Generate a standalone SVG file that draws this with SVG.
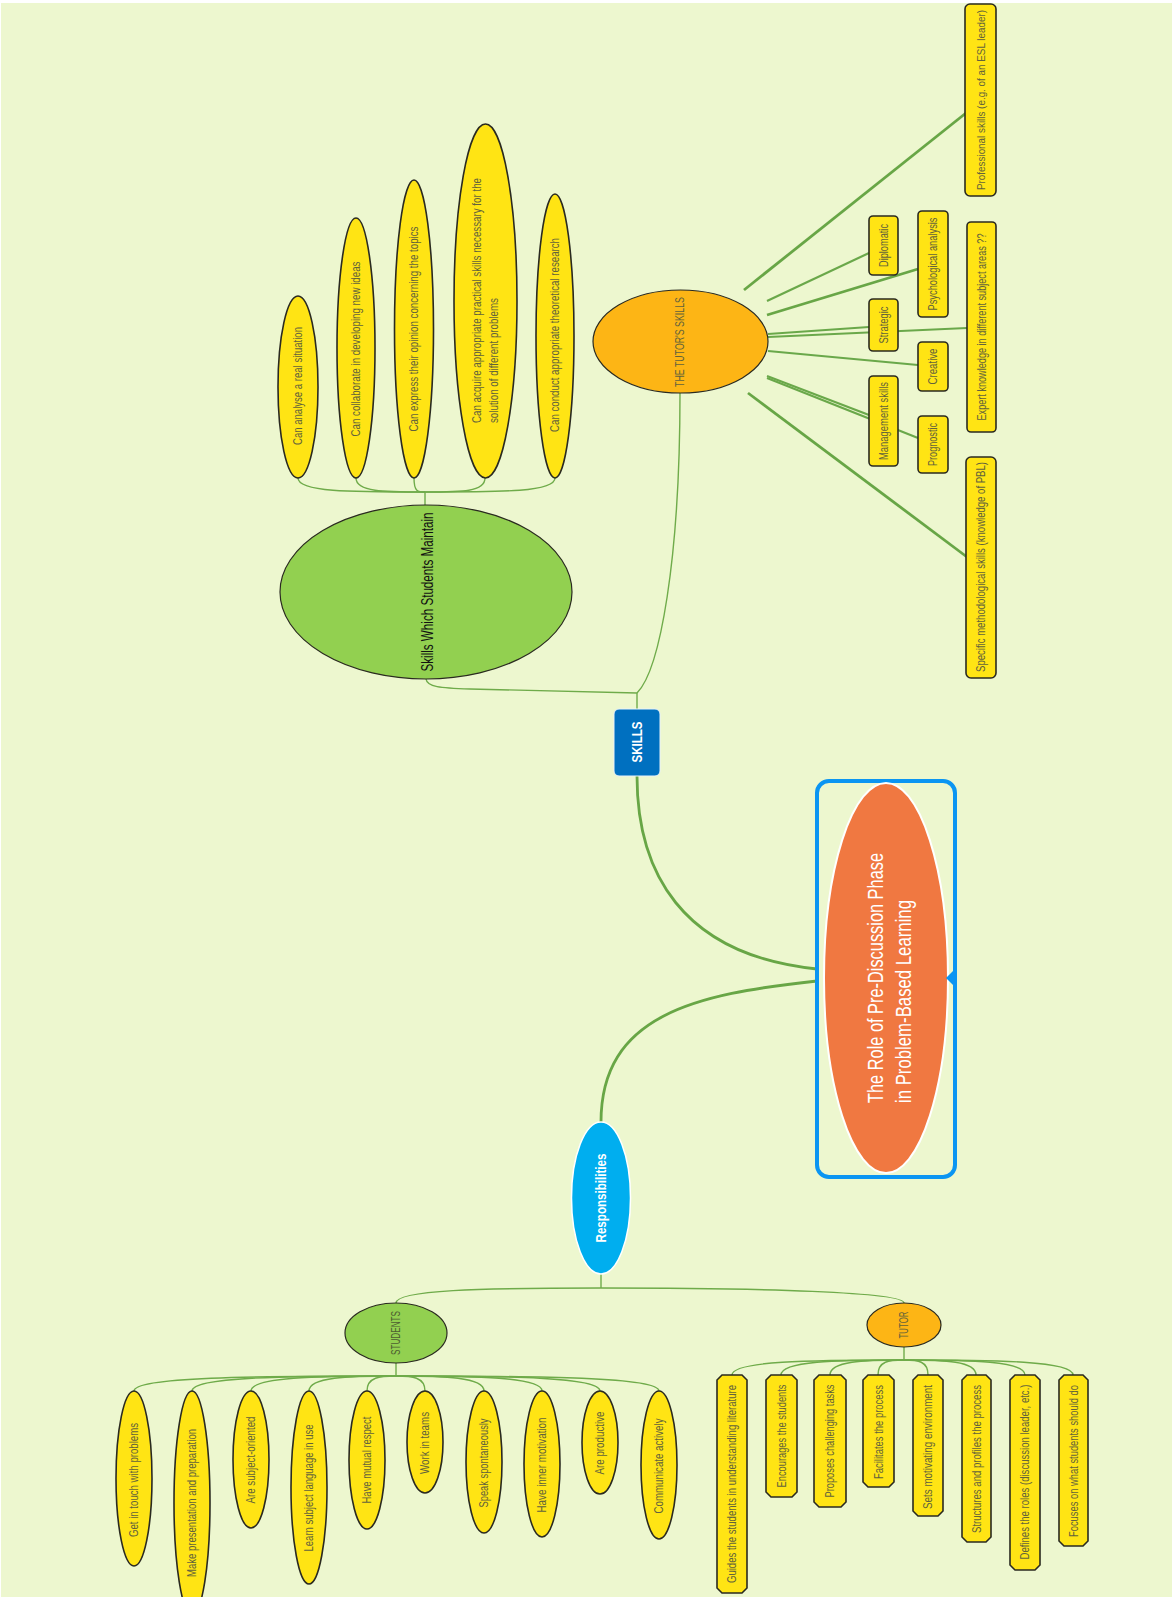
<svg xmlns="http://www.w3.org/2000/svg" width="1172" height="1597" viewBox="0 0 1172 1597">
  <style>
    .ln { fill: none; stroke: #6FAB4A; stroke-width: 1.4; }
    .lnm { fill: none; stroke: #6AA84A; stroke-width: 2.2; }
    .lnb { fill: none; stroke: #68A646; stroke-width: 2.8; }
    .yel { fill: #FFE414; stroke: #2A2A20; stroke-width: 1.6; }
    .box { fill: #FFE414; stroke: #2A2A20; stroke-width: 1.6; }
    .grn { fill: #92D050; stroke: #2A2A20; stroke-width: 1.2; }
    .org { fill: #FDB515; stroke: #2A2A20; stroke-width: 1.2; }
    text { font-family: "Liberation Sans", Arial, sans-serif; dominant-baseline: central; }
    .t { font-size: 12px; fill: #62623C; text-anchor: middle; }
    .ts { font-size: 12px; fill: #62623C; text-anchor: start; }
    .tw { fill: #FFFFFF; font-weight: bold; text-anchor: middle; }
  </style>

  <!-- canvas -->
  <rect x="0" y="0" width="1172" height="1597" fill="#FFFFFF"/>
  <rect x="1" y="3" width="1171" height="1594" fill="#EDF7CF"/>

  <!-- connectors -->
  <g id="connectors">
    <!-- student skill branches -->
    <path class="ln" d="M425 505 L425 492"/>
    <path class="ln" d="M425 492 C349 492 298 492 298 478"/>
    <path class="ln" d="M425 492 C384 492 356 492 356 478"/>
    <path class="ln" d="M425 492 C418 492 414 492 414 478"/>
    <path class="ln" d="M425 492 C462 492 485 492 485 478"/>
    <path class="ln" d="M425 492 C504 492 555 492 555 478"/>
    <!-- skills hub -->
    <path class="ln" d="M426 679 C427 687 440 688 470 689 L637 693"/>
    <path class="ln" d="M680 393 C680 560 660 670 637 693"/>
    <path class="ln" d="M637 693 L637 709"/>
    <!-- centre links -->
    <path class="lnb" d="M637 776 C637 870 680 955 817 969"/>
    <path class="lnb" d="M817 981 C695 994 601 1015 601 1122"/>
    <!-- tutor's skills rays -->
    <path class="lnb" d="M744 290 L966 113"/>
    <path class="lnm" d="M767 301 L869 253"/>
    <path class="lnb" d="M767 315 L918 269"/>
    <path class="lnm" d="M768 334 L869 327"/>
    <path class="lnm" d="M768 337 L967 328"/>
    <path class="lnm" d="M768 351 L918 365"/>
    <path class="lnm" d="M767 376 L869 415"/>
    <path class="lnm" d="M767 378 L918 438"/>
    <path class="lnb" d="M748 393 L967 557"/>
    <!-- responsibilities split -->
    <path class="ln" d="M601 1274 L601 1288"/>
    <path class="ln" d="M601 1288 C480 1288 396 1290 396 1303"/>
    <path class="ln" d="M601 1288 C760 1288 904 1292 904 1303"/>
    <!-- student branches -->
    <path class="ln" d="M396 1363 L396 1376"/>
    <path class="ln" d="M396 1376 C252 1376 134 1377 134 1391"/>
    <path class="ln" d="M396 1376 C284 1376 192 1377 192 1391"/>
    <path class="ln" d="M396 1376 C316 1376 251 1377 251 1391"/>
    <path class="ln" d="M396 1376 C348 1376 309 1377 309 1391"/>
    <path class="ln" d="M396 1376 C380 1376 367 1377 367 1391"/>
    <path class="ln" d="M396 1376 C412 1376 425 1377 425 1391"/>
    <path class="ln" d="M396 1376 C444 1376 484 1377 484 1391"/>
    <path class="ln" d="M396 1376 C476 1376 542 1377 542 1391"/>
    <path class="ln" d="M396 1376 C508 1376 600 1377 600 1391"/>
    <path class="ln" d="M396 1376 C541 1376 659 1377 659 1391"/>
    <!-- tutor branches -->
    <path class="ln" d="M904 1347 L904 1360"/>
    <path class="ln" d="M904 1360 C809 1360 732 1361 732 1375"/>
    <path class="ln" d="M904 1360 C836 1360 781 1361 781 1375"/>
    <path class="ln" d="M904 1360 C864 1360 830 1361 830 1375"/>
    <path class="ln" d="M904 1360 C889 1360 878 1361 878 1375"/>
    <path class="ln" d="M904 1360 C918 1360 928 1361 928 1375"/>
    <path class="ln" d="M904 1360 C945 1360 976 1361 976 1375"/>
    <path class="ln" d="M904 1360 C972 1360 1025 1361 1025 1375"/>
    <path class="ln" d="M904 1360 C998 1360 1073 1361 1073 1375"/>
  </g>

  <!-- central topic -->
  <g id="central">
    <rect x="817" y="781" width="138" height="396" rx="12" fill="none" stroke="#0B95F2" stroke-width="4"/>
    <ellipse cx="886" cy="978" rx="62" ry="195" fill="#F07841" stroke="#FFFFFF" stroke-width="2"/>
    <path d="M953 971 L946 978 L953 985 Z" fill="#0B95F2"/>
    <text class="tw" style="text-anchor:start;font-weight:normal;font-size:22px" transform="translate(875,1103) rotate(-90)" textLength="250" lengthAdjust="spacingAndGlyphs">The Role of Pre-Discussion Phase</text>
    <text class="tw" style="text-anchor:start;font-weight:normal;font-size:22px" transform="translate(903,1103) rotate(-90)" textLength="203" lengthAdjust="spacingAndGlyphs">in Problem-Based Learning</text>
  </g>

  <g id="skills">
    <rect x="614" y="709" width="46" height="67" rx="5" fill="#0070C0" stroke="#E8F2FA" stroke-width="1"/>
    <text class="tw" style="font-size:14px" transform="translate(637,742) rotate(-90)" textLength="41" lengthAdjust="spacingAndGlyphs">SKILLS</text>
  </g>

  <g id="students-skills">
    <ellipse class="grn" cx="426" cy="592" rx="146" ry="87"/>
    <text style="font-size:16px;fill:#111;text-anchor:middle" transform="translate(427,592) rotate(-90)" textLength="159" lengthAdjust="spacingAndGlyphs">Skills Which Students Maintain</text>
  </g>

  <g id="ss-1">
    <ellipse class="yel" cx="298" cy="387" rx="20" ry="91"/>
    <text class="t" transform="translate(298,386) rotate(-90)" textLength="118" lengthAdjust="spacingAndGlyphs">Can analyse a real situation</text>
  </g>
  <g id="ss-2">
    <ellipse class="yel" cx="356" cy="348" rx="19" ry="130"/>
    <text class="t" transform="translate(356,349) rotate(-90)" textLength="175" lengthAdjust="spacingAndGlyphs">Can collaborate in developing  new ideas</text>
  </g>
  <g id="ss-3">
    <ellipse class="yel" cx="414" cy="329" rx="19.5" ry="149"/>
    <text class="t" transform="translate(414,329) rotate(-90)" textLength="205" lengthAdjust="spacingAndGlyphs">Can express their opinion concerning the topics</text>
  </g>
  <g id="ss-4">
    <ellipse class="yel" cx="485.5" cy="301" rx="31.5" ry="177"/>
    <text class="ts" transform="translate(477,423) rotate(-90)" textLength="245" lengthAdjust="spacingAndGlyphs">Can acquire appropriate practical skills necessary for the</text>
    <text class="ts" transform="translate(494,423) rotate(-90)" textLength="125" lengthAdjust="spacingAndGlyphs">solution of different problems</text>
  </g>
  <g id="ss-5">
    <ellipse class="yel" cx="555" cy="336" rx="19" ry="142"/>
    <text class="t" transform="translate(555,335) rotate(-90)" textLength="194" lengthAdjust="spacingAndGlyphs">Can conduct appropriate  theoretical research</text>
  </g>

  <g id="tutors-skills">
    <ellipse class="org" cx="680.5" cy="341.5" rx="87.5" ry="51.5"/>
    <text class="t" transform="translate(680,342) rotate(-90)" textLength="90" lengthAdjust="spacingAndGlyphs">THE TUTOR'S SKILLS</text>
  </g>

  <g id="ts-professional">
    <rect class="box" x="965" y="4" width="31" height="192" rx="5"/>
    <text class="t" style="font-size:11px" transform="translate(980.5,100) rotate(-90)" textLength="180" lengthAdjust="spacingAndGlyphs">Professional skills (e.g. of an ESL leader)</text>
  </g>
  <g id="ts-diplomatic">
    <rect class="box" x="869" y="216" width="29" height="59" rx="4"/>
    <text class="t" transform="translate(883.5,245.5) rotate(-90)" textLength="43" lengthAdjust="spacingAndGlyphs">Diplomatic</text>
  </g>
  <g id="ts-psychological">
    <rect class="box" x="918" y="211" width="30" height="106" rx="4"/>
    <text class="t" transform="translate(933,264) rotate(-90)" textLength="93" lengthAdjust="spacingAndGlyphs">Psychological analysis</text>
  </g>
  <g id="ts-expert">
    <rect class="box" x="967" y="222" width="29" height="210" rx="4"/>
    <text class="t" transform="translate(981.5,327) rotate(-90)" textLength="187" lengthAdjust="spacingAndGlyphs">Expert knowledge in different subject areas ??</text>
  </g>
  <g id="ts-strategic">
    <rect class="box" x="869" y="299" width="29" height="52" rx="4"/>
    <text class="t" transform="translate(883.5,325) rotate(-90)" textLength="37" lengthAdjust="spacingAndGlyphs">Strategic</text>
  </g>
  <g id="ts-creative">
    <rect class="box" x="918" y="342" width="30" height="49" rx="4"/>
    <text class="t" transform="translate(933,366.5) rotate(-90)" textLength="36" lengthAdjust="spacingAndGlyphs">Creative</text>
  </g>
  <g id="ts-management">
    <rect class="box" x="869" y="376" width="29" height="90" rx="4"/>
    <text class="t" transform="translate(883.5,421) rotate(-90)" textLength="78" lengthAdjust="spacingAndGlyphs">Management skills</text>
  </g>
  <g id="ts-prognostic">
    <rect class="box" x="918" y="416" width="30" height="57" rx="4"/>
    <text class="t" transform="translate(933,444.5) rotate(-90)" textLength="43" lengthAdjust="spacingAndGlyphs">Prognostic</text>
  </g>
  <g id="ts-methodological">
    <rect class="box" x="966" y="457" width="30" height="221" rx="5"/>
    <text class="t" transform="translate(981,567) rotate(-90)" textLength="210" lengthAdjust="spacingAndGlyphs">Specific methodological skills (knowledge of PBL)</text>
  </g>

  <g id="responsibilities">
    <ellipse cx="601" cy="1198" rx="29.5" ry="76" fill="#00AEEF" stroke="#FFFFFF" stroke-width="1.5"/>
    <text class="tw" style="font-size:14px" transform="translate(601,1198) rotate(-90)" textLength="89" lengthAdjust="spacingAndGlyphs">Responsibilities</text>
  </g>

  <g id="students">
    <ellipse class="grn" cx="396" cy="1333" rx="51" ry="30"/>
    <text class="t" style="fill:#4E5E30" transform="translate(396,1333) rotate(-90)" textLength="44" lengthAdjust="spacingAndGlyphs">STUDENTS</text>
  </g>
  <g id="st-1">
    <ellipse class="yel" cx="134" cy="1478.5" rx="18" ry="87.5"/>
    <text class="t" transform="translate(134,1480) rotate(-90)" textLength="114" lengthAdjust="spacingAndGlyphs">Get in touch with problems</text>
  </g>
  <g id="st-2">
    <ellipse class="yel" cx="192" cy="1503" rx="18" ry="112"/>
    <text class="t" transform="translate(192,1503) rotate(-90)" textLength="148" lengthAdjust="spacingAndGlyphs">Make presentation and preparation</text>
  </g>
  <g id="st-3">
    <ellipse class="yel" cx="251" cy="1459.5" rx="18" ry="68.5"/>
    <text class="t" transform="translate(251,1460) rotate(-90)" textLength="87" lengthAdjust="spacingAndGlyphs">Are subject-oriented</text>
  </g>
  <g id="st-4">
    <ellipse class="yel" cx="309" cy="1487.5" rx="18" ry="96.5"/>
    <text class="t" transform="translate(309,1488) rotate(-90)" textLength="127" lengthAdjust="spacingAndGlyphs">Learn subject language in use</text>
  </g>
  <g id="st-5">
    <ellipse class="yel" cx="367" cy="1460" rx="18" ry="69"/>
    <text class="t" transform="translate(367,1460) rotate(-90)" textLength="87" lengthAdjust="spacingAndGlyphs">Have mutual respect</text>
  </g>
  <g id="st-6">
    <ellipse class="yel" cx="425" cy="1442" rx="18" ry="51"/>
    <text class="t" transform="translate(425,1443) rotate(-90)" textLength="62" lengthAdjust="spacingAndGlyphs">Work in teams</text>
  </g>
  <g id="st-7">
    <ellipse class="yel" cx="484" cy="1462" rx="18" ry="71"/>
    <text class="t" transform="translate(484,1463) rotate(-90)" textLength="89" lengthAdjust="spacingAndGlyphs">Speak spontaneously</text>
  </g>
  <g id="st-8">
    <ellipse class="yel" cx="542" cy="1464" rx="18" ry="73"/>
    <text class="t" transform="translate(542,1465) rotate(-90)" textLength="95" lengthAdjust="spacingAndGlyphs">Have inner motivation</text>
  </g>
  <g id="st-9">
    <ellipse class="yel" cx="600" cy="1442.5" rx="18" ry="51.5"/>
    <text class="t" transform="translate(600,1443) rotate(-90)" textLength="63" lengthAdjust="spacingAndGlyphs">Are productive</text>
  </g>
  <g id="st-10">
    <ellipse class="yel" cx="659" cy="1465" rx="18" ry="74"/>
    <text class="t" transform="translate(659,1466) rotate(-90)" textLength="95" lengthAdjust="spacingAndGlyphs">Communicate actively</text>
  </g>

  <g id="tutor">
    <ellipse class="org" cx="904" cy="1325" rx="37" ry="22"/>
    <text class="t" transform="translate(904,1325) rotate(-90)" textLength="27" lengthAdjust="spacingAndGlyphs">TUTOR</text>
  </g>
  <g id="tu-1">
    <path class="box" d="M722 1375 H742 L747 1380 V1588 L742 1593 H722 L717 1588 V1380 Z"/>
    <text class="t" transform="translate(732,1484) rotate(-90)" textLength="198" lengthAdjust="spacingAndGlyphs">Guides the students in understanding literature</text>
  </g>
  <g id="tu-2">
    <path class="box" d="M771 1375 H792 L797 1380 V1492 L792 1497 H771 L766 1492 V1380 Z"/>
    <text class="t" transform="translate(781.5,1436) rotate(-90)" textLength="103" lengthAdjust="spacingAndGlyphs">Encourages the students</text>
  </g>
  <g id="tu-3">
    <path class="box" d="M819 1375 H841 L846 1380 V1502 L841 1507 H819 L814 1502 V1380 Z"/>
    <text class="t" transform="translate(830,1441) rotate(-90)" textLength="113" lengthAdjust="spacingAndGlyphs">Proposes challenging tasks</text>
  </g>
  <g id="tu-4">
    <path class="box" d="M868 1375 H889 L894 1380 V1482 L889 1487 H868 L863 1482 V1380 Z"/>
    <text class="t" transform="translate(878.5,1432) rotate(-90)" textLength="94" lengthAdjust="spacingAndGlyphs">Facilitates the process</text>
  </g>
  <g id="tu-5">
    <path class="box" d="M918 1375 H938 L943 1380 V1511 L938 1516 H918 L913 1511 V1380 Z"/>
    <text class="t" transform="translate(928,1447) rotate(-90)" textLength="124" lengthAdjust="spacingAndGlyphs">Sets motivating environment</text>
  </g>
  <g id="tu-6">
    <path class="box" d="M967 1375 H986 L991 1380 V1537 L986 1542 H967 L962 1537 V1380 Z"/>
    <text class="t" transform="translate(976.5,1459) rotate(-90)" textLength="148" lengthAdjust="spacingAndGlyphs">Structures and profiles the process</text>
  </g>
  <g id="tu-7">
    <path class="box" d="M1015 1375 H1035 L1040 1380 V1565 L1035 1570 H1015 L1010 1565 V1380 Z"/>
    <text class="t" transform="translate(1025,1472) rotate(-90)" textLength="175" lengthAdjust="spacingAndGlyphs">Defines the roles (discussion leader, etc.)</text>
  </g>
  <g id="tu-8">
    <path class="box" d="M1064 1375 H1083 L1088 1380 V1541 L1083 1546 H1064 L1059 1541 V1380 Z"/>
    <text class="t" transform="translate(1073.5,1461) rotate(-90)" textLength="152" lengthAdjust="spacingAndGlyphs">Focuses on what students should do</text>
  </g>
</svg>
